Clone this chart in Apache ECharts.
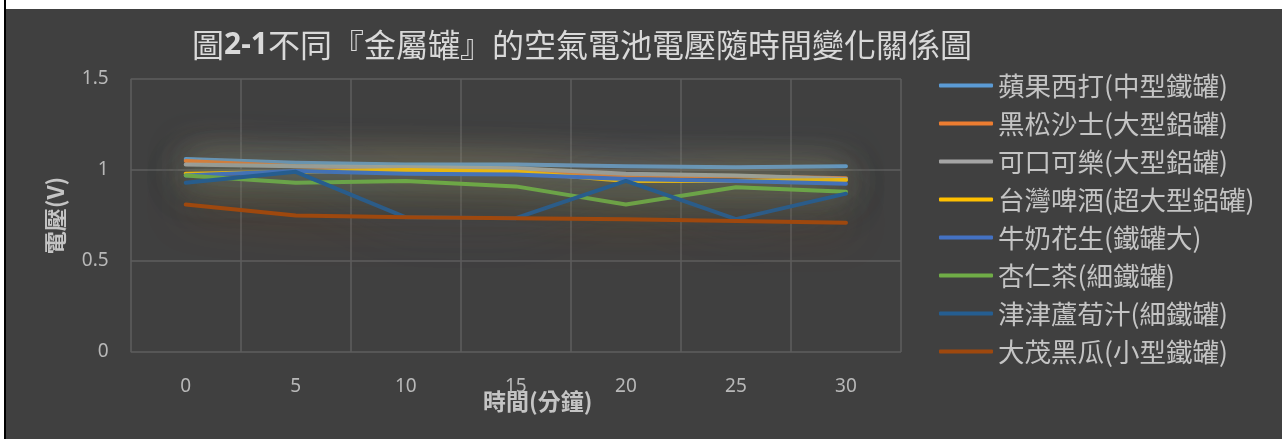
<!DOCTYPE html>
<html>
<head>
<meta charset="utf-8">
<script src="https://cdn.jsdelivr.net/npm/echarts@6/dist/echarts.min.js"></script>
<style>
  body { margin: 0; background: #fff; width: 1282px; height: 439px; position: relative; overflow: hidden; }
  #edge { position: absolute; left: 4px; top: 0; width: 2px; height: 439px; background: #000; }
  #chart { position: absolute; left: 6px; top: 9px; width: 1276px; height: 430px; }
</style>
</head>
<body>
<div id="edge"></div>
<div id="chart"></div>
<script>
const minutes = ['0', '5', '10', '15', '20', '25', '30'];
const yTicks = [0, 0.5, 1, 1.5];

const seriesNames = [
  '蘋果西打(中型鐵罐)',
  '黑松沙士(大型鋁罐)',
  '可口可樂(大型鋁罐)',
  '台灣啤酒(超大型鋁罐)',
  '牛奶花生(鐵罐大)',
  '杏仁茶(細鐵罐)',
  '津津蘆荀汁(細鐵罐)',
  '大茂黑瓜(小型鐵罐)'
];

const appleSoda    = [1.06, 1.04, 1.03, 1.03, 1.02, 1.015, 1.02];
const sarsaparilla = [1.05, 1.02, 1.005, 0.99, 0.97, 0.965, 0.955];
const cola         = [1.03, 1.02, 1.015, 1.01, 0.98, 0.97, 0.95];
const beer         = [0.98, 0.99, 1.0, 0.99, 0.94, 0.94, 0.945];
const peanutMilk   = [0.97, 0.995, 0.98, 0.975, 0.95, 0.94, 0.925];
const almondTea    = [0.97, 0.93, 0.94, 0.91, 0.81, 0.905, 0.88];
const asparagus    = [0.93, 0.99, 0.74, 0.735, 0.94, 0.73, 0.87];
const pickles      = [0.81, 0.75, 0.74, 0.735, 0.73, 0.72, 0.71];

const colors = ['#5B9BD5', '#ED7D31', '#A5A5A5', '#FFC000', '#4472C4', '#70AD47', '#255E91', '#9E480E'];
const allValues = [appleSoda, sarsaparilla, cola, beer, peanutMilk, almondTea, asparagus, pickles];

const cjk = '"Noto Sans CJK TC", "Noto Sans CJK SC", sans-serif';

function withAlpha(hex, a) {
  const n = parseInt(hex.slice(1), 16);
  return 'rgba(' + (n >> 16) + ',' + ((n >> 8) & 255) + ',' + (n & 255) + ',' + a + ')';
}

const chart = echarts.init(document.getElementById('chart'));

const option = {
  backgroundColor: '#404040',
  animation: false,
  title: {
    text: '{a|圖}{b|2-1}{a|不同『金屬罐』的空氣電池電壓隨時間變化關係圖}',
    left: 186,
    top: 20,
    padding: 0,
    textStyle: {
      fontWeight: 'normal',
      rich: {
        a: { fontFamily: cjk, fontSize: 32, fontWeight: 'normal', color: '#d9d9d9' },
        b: { fontFamily: '"Noto Sans", sans-serif', fontWeight: 'bold', fontSize: 30, color: '#d9d9d9' }
      }
    }
  },
  legend: {
    orient: 'vertical',
    left: 933,
    top: 63,
    padding: 0,
    icon: 'roundRect',
    itemWidth: 54,
    itemHeight: 4,
    itemGap: 11,
    textStyle: { fontFamily: cjk, fontSize: 26.5, lineHeight: 27, color: '#c4c4c4' },
    data: seriesNames
  },
  grid: { left: 124.7, top: 70, right: 381, bottom: 87, containLabel: false },
  xAxis: {
    type: 'category',
    data: minutes,
    boundaryGap: true,
    axisLine: { show: false },
    axisTick: { show: false },
    splitLine: { show: true, lineStyle: { color: '#5e5e5e', width: 1.5 } },
    axisLabel: { margin: 25, fontFamily: '"Noto Sans", sans-serif', fontSize: 19, color: '#b8b8b8' }
  },
  yAxis: {
    type: 'value',
    min: yTicks[0],
    max: yTicks[yTicks.length - 1],
    interval: 0.5,
    name: '電壓(V)',
    nameLocation: 'middle',
    nameGap: 64,
    nameTextStyle: { fontFamily: cjk, fontSize: 23, fontWeight: 'bold', color: '#c4c4c4' },
    axisLine: { show: false },
    axisTick: { show: false },
    splitLine: { show: true, lineStyle: { color: '#5e5e5e', width: 1.5 } },
    axisLabel: { margin: 22, fontFamily: '"Noto Sans", sans-serif', fontSize: 19, color: '#b8b8b8' }
  },
  graphic: [{
    type: 'text',
    left: 477,
    top: 381,
    style: { text: '時間(分鐘)', font: 'bold 23px ' + cjk, fill: '#c4c4c4' }
  }],
  series: allValues.map((vals, i) => ({
    name: seriesNames[i],
    type: 'line',
    data: vals,
    symbol: 'none',
    color: colors[i],
    lineStyle: {
      width: 4,
      cap: 'round',
      join: 'round',
      color: colors[i],
      shadowBlur: 40,
      shadowColor: withAlpha(colors[i], 0.9)
    }
  }))
};

chart.setOption(option);
</script>
</body>
</html>
